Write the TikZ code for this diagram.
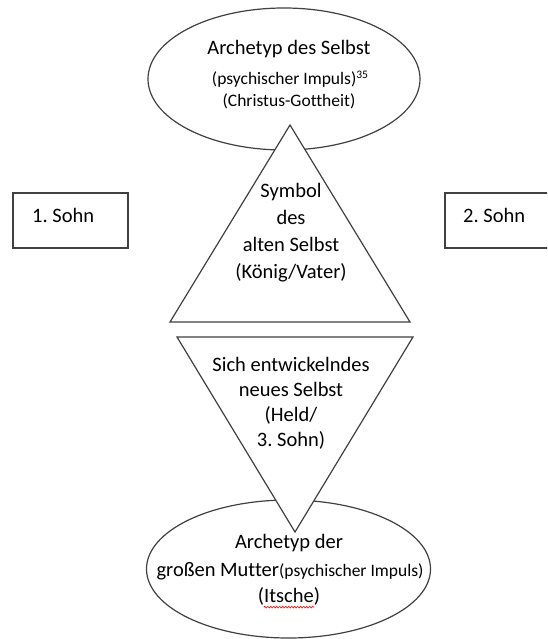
\documentclass[tikz,border=0pt]{standalone}
\usepackage{fontspec}
\setmainfont[Ligatures=NoCommon]{Carlito}
\frenchspacing
\usetikzlibrary{shapes.geometric,decorations.pathmorphing}
\tikzset{
  shapeline/.style={draw=black!75, line width=1.2pt, fill=white},
  boxline/.style={draw=black!75, line width=1.4pt, fill=white},
  big/.style={font=\fontsize{20.5}{27}\selectfont, inner sep=0pt, align=center},
  bigb/.style={font=\fontsize{20.5}{25}\selectfont, inner sep=0pt, align=center},
  small/.style={font=\fontsize{17.5}{22}\selectfont, inner sep=0pt, align=center},
}
\begin{document}
\begin{tikzpicture}[x=1pt,y=-1pt]
\useasboundingbox (0,0) rectangle (547,639);
\clip (0,0) rectangle (547,639);
% ellipses
\node[ellipse, shapeline, minimum width=272pt, minimum height=142pt, inner sep=0pt] (topell) at (284,79) {};
\node[ellipse, shapeline, minimum width=284pt, minimum height=138pt, inner sep=0pt] (botell) at (288.5,569) {};
% triangles
\coordinate (ua) at (290,125);
\coordinate (ul) at (170,322);
\coordinate (ur) at (410,322);
\draw[shapeline, line join=miter] (ua) -- (ur) -- (ul) -- cycle;
\coordinate (dl) at (177,337);
\coordinate (dr) at (413,337);
\coordinate (da) at (295,532);
\draw[shapeline, line join=miter] (dl) -- (dr) -- (da) -- cycle;
% boxes
\draw[boxline] (13,193) rectangle (128,248) coordinate (box1);
\draw[boxline] (445,193) rectangle (565,248) coordinate (box2);
\node[big, anchor=west] (s1) at (32,215) {1. Sohn};
\node[big, anchor=west] (s2) at (463,215) {2. Sohn};
% top ellipse text
\node[big] (t1) at (289,49) {Archetyp des Selbst};
\node[small] (t2) at (290,79) {(psychischer Impuls)\raisebox{6.5pt}{\fontsize{11.5}{11.5}\selectfont 35}};
\node[small] (t3) at (289,101) {(Christus-Gottheit)};
% upper triangle text
\node[big] (u1) at (291,233) {Symbol\\des\\alten Selbst\\(König/Vater)};
% lower triangle text
\node[bigb] (d1) at (291,403) {Sich entwickelndes\\neues Selbst\\(Held/\\3. Sohn)};
% bottom ellipse text
\node[big] (b1) at (289,543) {Archetyp der};
\node[big] (b2) at (290,571) {großen Mutter{\fontsize{17.5}{17.5}\selectfont(psychischer Impuls)}};
\node[big] (b3) at (289,596) {(Itsche)};
\coordinate (sq1) at ([xshift=6pt,yshift=-2pt]b3.south west);
\coordinate (sq2) at ([xshift=-6pt,yshift=-2pt]b3.south east);
\draw[red, line width=0.6pt, decorate, decoration={snake, amplitude=0.9pt, segment length=3pt}] (sq1) -- (sq2);
\end{tikzpicture}
\end{document}
